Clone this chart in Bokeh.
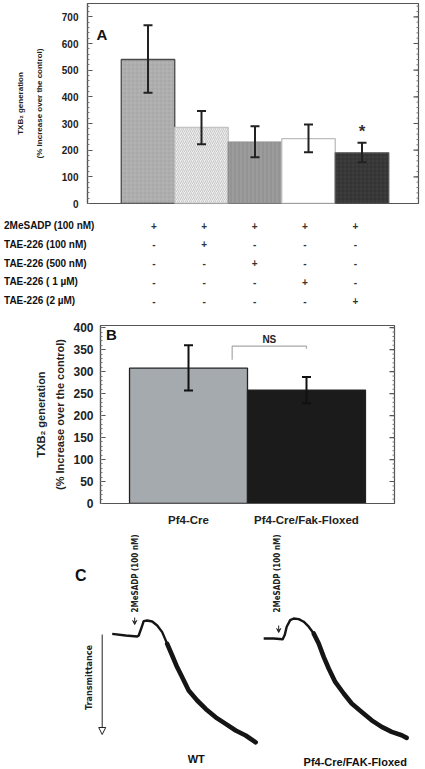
import math
from bokeh.plotting import figure
from bokeh.models import (ColumnDataSource, Range1d, LinearAxis, FixedTicker,
                          Whisker, TeeHead, Label, Arrow, NormalHead, VeeHead)
from bokeh.core.properties import value
from bokeh.embed import file_html
from bokeh.resources import INLINE

FONT = "Liberation Sans, Arial, sans-serif"
NARROW = "Liberation Sans Narrow, DejaVu Sans Condensed, sans-serif"

# ---------------- data ----------------
# Panel A
a_positions = [1, 2, 3, 4, 5]
a_values = [540, 285, 230, 243, 190]
a_err_low = [415, 222, 173, 192, 155]
a_err_high = [668, 347, 290, 296, 228]
a_significance = ["", "", "", "", "*"]
a_ticks = [0, 100, 200, 300, 400, 500, 600, 700]
a_minor_ticks = list(range(0, 741, 20))

table_row_labels = ["2MeSADP (100 nM)", "TAE-226 (100 nM)", "TAE-226 (500 nM)",
                    "TAE-226 ( 1 \u00b5M)", "TAE-226 (2 \u00b5M)"]
table_signs = [["+", "+", "+", "+", "+"],
               ["-", "+", "-", "-", "-"],
               ["-", "-", "+", "-", "-"],
               ["-", "-", "-", "+", "-"],
               ["-", "-", "-", "-", "+"]]

# Panel B
b_groups = ["Pf4-Cre", "Pf4-Cre/Fak-Floxed"]
b_positions = [1, 2]
b_values = [308, 258]
b_err_low = [257, 228]
b_err_high = [360, 288]
b_ticks = [0, 50, 100, 150, 200, 250, 300, 350, 400]
b_minor_ticks = list(range(0, 401, 10))
b_ns_label = "NS"

# Panel C  (time in s relative to agonist, transmittance change in %)
wt_time = [-50, -23, 0, 3, 9, 13, 20, 30, 40, 50, 60, 70, 80, 90, 103, 120, 137, 157,
           177, 197, 217, 237]
wt_trans = [-1.8, -1.0, -0.5, -1.0, -5.2, -8.2, -8.5, -8.0, -6.0, -2.7, 3.2, 9.0, 14.9,
            19.9, 26.5, 31.5, 35.7, 39.9, 43.2, 46.5, 49.0, 52.4]
fak_time = [-39, -19, -1, 3, 7, 14, 21, 31, 41, 51, 61, 71, 81, 91, 104, 121, 137, 157,
            177, 197, 217, 237, 247]
fak_trans = [0.5, 0.5, 0.9, -1.2, -5.4, -8.7, -9.5, -9.2, -7.9, -5.4, -2.0, 3.0, 9.7,
             15.5, 22.2, 28.0, 33.0, 37.2, 41.4, 44.7, 47.2, 48.9, 50.2]
c_labels = ["WT", "Pf4-Cre/FAK-Floxed"]
agonist_label = "2MeSADP (100 nM)"

# ---------------- styles ----------------
a_fill = ["#a9a9a9", "#ececec", "#9c9c9c", "#ffffff", "#3d3d3d"]
a_hatch = ["+", "/", "|", " ", "+"]
a_hatch_color = ["#b8b8b8", "#b0b0b0", "#7e7e7e", "#ffffff", "#2c2c2c"]
a_line = ["#4a4a4a", "#c4c4c4", "#8a8a8a", "#bdbdbd", "#555555"]
AXC = "#555555"


def style_axis(ax, size):
    ax.axis_line_color = AXC
    ax.axis_line_width = 1.2
    ax.major_tick_in = 5
    ax.major_tick_out = 0
    ax.minor_tick_in = 2
    ax.minor_tick_out = 0
    ax.major_tick_line_color = AXC
    ax.minor_tick_line_color = "#777777"
    ax.major_label_text_font = FONT
    ax.major_label_text_font_style = "bold"
    ax.major_label_text_font_size = size
    ax.major_label_text_color = "#222222"


def label_axis(text, size, standoff):
    return LinearAxis(axis_label=text, ticker=FixedTicker(ticks=[]),
                      axis_line_color=None, major_tick_line_color=None,
                      minor_tick_line_color=None, major_label_standoff=0,
                      axis_label_text_font=FONT, axis_label_text_font_style="bold",
                      axis_label_text_font_size=size, axis_label_standoff=standoff,
                      axis_label_text_color="#222222")


def right_ticks(p, majors, minors):
    # inward ticks on the right frame edge (half of each dash is clipped by the frame)
    xe = p.x_range.end
    p.scatter(x=[xe] * len(minors), y=minors, marker="dash", size=4,
              line_color="#777777", line_width=1)
    p.scatter(x=[xe] * len(majors), y=majors, marker="dash", size=10,
              line_color=AXC, line_width=1.2)


# ---------------- Panel A ----------------
pA = figure(width=425, height=213, x_range=Range1d(-0.131, 6.056), y_range=Range1d(0, 750),
            output_backend="svg", toolbar_location=None, x_axis_location=None,
            min_border_left=87, min_border_right=7, min_border_top=3, min_border_bottom=10)
pA.grid.visible = False
pA.outline_line_color = AXC
pA.outline_line_width = 1.2
srcA = ColumnDataSource(dict(x=a_positions, top=a_values, lo=a_err_low, hi=a_err_high,
                             fill=a_fill, hatch=a_hatch, hcolor=a_hatch_color, line=a_line))
pA.vbar(x="x", top="top", bottom=0, width=1, fill_color="fill", line_color="line",
        line_width=1.3, hatch_pattern="hatch", hatch_color="hcolor", hatch_scale=4,
        hatch_weight=0.6, source=srcA)
pA.add_layout(Whisker(source=srcA, base="x", upper="hi", lower="lo", line_width=2,
                      line_color="#222222", level="overlay",
                      upper_head=TeeHead(size=9, line_width=2, line_color="#222222"),
                      lower_head=TeeHead(size=9, line_width=2, line_color="#222222")))
sig_idx = [i for i, s in enumerate(a_significance) if s]
pA.text(x=[a_positions[i] for i in sig_idx], y=[a_err_high[i] + 42 for i in sig_idx],
        text=[a_significance[i] for i in sig_idx], text_font=value(FONT),
        text_font_style="bold", text_font_size="17px", text_align="center",
        text_baseline="middle", text_color="#333333")
pA.yaxis.ticker = FixedTicker(ticks=a_ticks, minor_ticks=a_minor_ticks)
style_axis(pA.yaxis[0], "10px")
pA.yaxis.major_label_standoff = 9
pA.yaxis.axis_label = "(% Increase over the control)"
pA.yaxis.axis_label_text_font = FONT
pA.yaxis.axis_label_text_font_style = "bold"
pA.yaxis.axis_label_text_font_size = "8px"
pA.yaxis.axis_label_standoff = 15
pA.yaxis.axis_label_text_color = "#222222"
pA.add_layout(label_axis("TXB\u2082 generation", "8px", 7), "left")
right_ticks(pA, a_ticks, a_minor_ticks)
pA.add_layout(Label(x=0.037, y=634, text="A", text_font=FONT, text_font_style="bold",
                    text_font_size="15px", text_baseline="middle", text_color="#111111"))

# ---------------- condition table ----------------
pT = figure(width=425, height=100, x_range=Range1d(-2.042, 6.39),
            y_range=Range1d(4.69, -0.64), output_backend="svg", toolbar_location=None,
            x_axis_location=None, y_axis_location=None, min_border=0)
pT.grid.visible = False
pT.outline_line_color = None
rows = list(range(len(table_row_labels)))
label_x = pT.x_range.start + 0.07
pT.text(x=[label_x] * len(rows), y=rows, text=table_row_labels,
        text_font=value(FONT), text_font_style="bold", text_font_size="10px",
        text_align="left", text_baseline="middle", text_color="#111111")
sx, sy, st = [], [], []
for r, signs in enumerate(table_signs):
    for c, s in enumerate(signs):
        sx.append(a_positions[c])
        sy.append(r)
        st.append(s)
pT.text(x=sx, y=sy, text=st, text_font=value(FONT), text_font_style="bold",
        text_font_size="10px", text_align="center", text_baseline="middle",
        text_color="#333333")

# ---------------- Panel B ----------------
pB = figure(width=425, height=217, x_range=Range1d(0.254, 2.746), y_range=Range1d(0, 405),
            output_backend="svg", toolbar_location=None,
            min_border_left=100, min_border_right=31, min_border_top=12, min_border_bottom=27)
pB.grid.visible = False
pB.outline_line_color = AXC
pB.outline_line_width = 1.2
srcB = ColumnDataSource(dict(x=b_positions, top=b_values, lo=b_err_low, hi=b_err_high,
                             fill=["#a5aaaf", "#1b1b1b"]))
pB.vbar(x="x", top="top", bottom=0, width=1, fill_color="fill", line_color="#222222",
        line_width=1.3, source=srcB)
pB.add_layout(Whisker(source=srcB, base="x", upper="hi", lower="lo", line_width=2,
                      line_color="#111111", level="overlay",
                      upper_head=TeeHead(size=9, line_width=2, line_color="#111111"),
                      lower_head=TeeHead(size=9, line_width=2, line_color="#111111")))
ns_left = b_positions[0] + 0.37
ns_right = b_positions[1]
pB.line(x=[ns_left, ns_left, ns_right, ns_right], y=[327, 358, 358, 352],
        line_color="#a8a8a8", line_width=1.2)
pB.text(x=[(ns_left + ns_right) / 2], y=[373], text=[b_ns_label], text_font=value(FONT),
        text_font_style="bold", text_font_size="10px", text_align="center",
        text_baseline="middle", text_color="#222222")
pB.yaxis.ticker = FixedTicker(ticks=b_ticks, minor_ticks=b_minor_ticks)
style_axis(pB.yaxis[0], "12px")
pB.yaxis.major_label_standoff = 7
pB.yaxis.axis_label = "(% Increase over the control)"
pB.yaxis.axis_label_text_font = FONT
pB.yaxis.axis_label_text_font_style = "bold"
pB.yaxis.axis_label_text_font_size = "11px"
pB.yaxis.axis_label_standoff = 4
pB.yaxis.axis_label_text_color = "#222222"
pB.add_layout(label_axis("TXB\u2082 generation", "11px", 5), "left")
right_ticks(pB, b_ticks, b_minor_ticks)
pB.xaxis.ticker = FixedTicker(ticks=b_positions)
pB.xaxis.major_label_overrides = {p: g for p, g in zip(b_positions, b_groups)}
style_axis(pB.xaxis[0], "11.5px")
pB.xaxis.major_tick_in = 0
pB.xaxis.minor_tick_line_color = None
pB.xaxis.major_tick_line_color = None
pB.xaxis.major_label_standoff = 10
pB.add_layout(Label(x=0.30, y=385, text="B", text_font=FONT, text_font_style="bold",
                    text_font_size="15px", text_baseline="middle", text_color="#111111"))

# ---------------- Panel C ----------------
trace_gap = 292
pC = figure(width=425, height=239, x_range=Range1d(-273.4, 576.6),
            y_range=Range1d(66, -53.5), output_backend="svg", toolbar_location=None,
            x_axis_location=None, y_axis_location=None, min_border=0)
pC.grid.visible = False
pC.outline_line_color = None
fak_x = [t + trace_gap for t in fak_time]
for xs, ys, ts in ((wt_time, wt_trans, wt_time), (fak_x, fak_trans, fak_time)):
    # thin trace overall, noisy band thicker during the aggregation phase
    pC.line(xs, ys, line_color="#151515", line_width=2.4, line_join="round")
    late = [i for i, t in enumerate(ts) if t >= 60]
    pC.line([xs[i] for i in late], [ys[i] for i in late], line_color="#151515",
            line_width=4.6, line_join="round", line_cap="round")

# agonist arrows and labels
for x0, ytop in ((-5, -10), (trace_gap - 9, -6)):
    pC.add_layout(Arrow(x_start=x0, y_start=ytop, x_end=x0, y_end=ytop + 3.5,
                        line_width=1, line_color="#222222",
                        end=VeeHead(size=4, line_color="#222222", line_width=1,
                                    fill_color="#222222")))
pC.text(x=[-3, trace_gap - 12], y=[-12.5, -12.5], text=[agonist_label] * 2,
        angle=math.pi / 2, text_font=value(NARROW), text_font_style="bold",
        text_font_size="8px", text_align="left", text_baseline="middle",
        text_color="#222222")
# transmittance arrow
pC.add_layout(Arrow(x_start=-70, y_start=-1.5, x_end=-70, y_end=48.5, line_width=1,
                    line_color="#222222",
                    end=NormalHead(size=7, line_color="#222222", line_width=1,
                                   fill_color="white")))
pC.text(x=[-97], y=[20], text=["Transmittance"], angle=math.pi / 2,
        text_font=value(NARROW), text_font_style="bold", text_font_size="9px",
        text_align="center", text_baseline="middle", text_color="#222222")
pC.text(x=[-113], y=[-31], text=["C"], text_font=value(FONT), text_font_style="bold",
        text_font_size="16px", text_align="center", text_baseline="middle",
        text_color="#111111")
pC.text(x=[118, 436], y=[60.5, 62.2], text=c_labels, text_font=value(FONT),
        text_font_style="bold", text_font_size="11px", text_align="center",
        text_baseline="middle", text_color="#111111")

open("out.html", "w").write(file_html([pA, pT, pB, pC], INLINE))
